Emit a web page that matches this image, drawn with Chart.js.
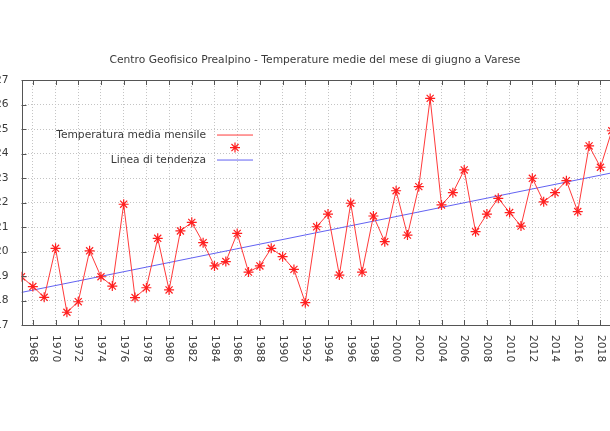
<!DOCTYPE html>
<html>
<head>
<meta charset="utf-8">
<script src="https://cdn.jsdelivr.net/npm/chart.js"></script>
<style>
  html, body { margin: 0; padding: 0; background: #fff; overflow: hidden; }
  #wrap { position: relative; width: 610px; height: 431px; overflow: hidden; }
  #chart { position: absolute; left: -30px; top: 0; }
</style>
</head>
<body>
<div id="wrap"><canvas id="chart" width="690" height="431"></canvas></div>
<script>
const TITLE = "Centro Geofisico Prealpino - Temperature medie del mese di giugno a Varese";

const years = [
  1967, 1968, 1969, 1970, 1971, 1972, 1973, 1974, 1975, 1976,
  1977, 1978, 1979, 1980, 1981, 1982, 1983, 1984, 1985, 1986,
  1987, 1988, 1989, 1990, 1991, 1992, 1993, 1994, 1995, 1996,
  1997, 1998, 1999, 2000, 2001, 2002, 2003, 2004, 2005, 2006,
  2007, 2008, 2009, 2010, 2011, 2012, 2013, 2014, 2015, 2016,
  2017, 2018, 2019
];
const temps = [
  18.97, 18.57, 18.13, 20.13, 17.52, 17.95, 20.03, 18.97, 18.59, 21.93,
  18.12, 18.52, 20.54, 18.43, 20.84, 21.19, 20.36, 19.41, 19.59, 20.74,
  19.16, 19.41, 20.13, 19.79, 19.27, 17.91, 21.01, 21.53, 19.04, 21.97,
  19.16, 21.45, 20.40, 22.48, 20.67, 22.65, 26.25, 21.90, 22.40, 23.33,
  20.81, 21.53, 22.17, 21.59, 21.04, 22.99, 22.03, 22.40, 22.89, 21.63,
  24.31, 23.44, 24.93
];

// trend line at its two ends
const trendYears = [1967, 2019];
const trendTemps = [18.33, 23.21];

const yearTicks = [
  1968, 1970, 1972, 1974, 1976, 1978, 1980, 1982, 1984, 1986,
  1988, 1990, 1992, 1994, 1996, 1998, 2000, 2002, 2004, 2006,
  2008, 2010, 2012, 2014, 2016, 2018, 2020, 2022
];
const tempTicks = [17, 18, 19, 20, 21, 22, 23, 24, 25, 26, 27];

const FONT = "DejaVu Sans";
const FSIZE = 10.7;
const TEXT = "#3a3a3a";
const RED = "#ff3a3a";
const BLUE = "#6262f2";

function drawStar(ctx, x, y, r) {
  const d = r * Math.SQRT1_2;
  ctx.beginPath();
  ctx.moveTo(x - r, y); ctx.lineTo(x + r, y);
  ctx.moveTo(x, y - r); ctx.lineTo(x, y + r);
  ctx.moveTo(x - d, y - d); ctx.lineTo(x + d, y + d);
  ctx.moveTo(x - d, y + d); ctx.lineTo(x + d, y - d);
  ctx.stroke();
}

// gnuplot look: box border, inward ticks, rotated year labels, legend on the right of text
const gnuplotFrame = {
  id: "gnuplotFrame",
  afterDraw(chart) {
    const { ctx, chartArea: a, scales } = chart;
    ctx.save();

    ctx.strokeStyle = "#555555";
    ctx.lineWidth = 1;
    ctx.strokeRect(Math.round(a.left) + 0.5, Math.round(a.top) + 0.5,
      Math.round(a.right - a.left), Math.round(a.bottom - a.top));

    ctx.beginPath();
    for (const t of scales.x.ticks) {
      const px = Math.round(scales.x.getPixelForValue(t.value)) + 0.5;
      ctx.moveTo(px, a.bottom); ctx.lineTo(px, a.bottom - 5);
      ctx.moveTo(px, a.top); ctx.lineTo(px, a.top + 5);
    }
    for (const t of scales.y.ticks) {
      const py = Math.round(scales.y.getPixelForValue(t.value)) + 0.5;
      ctx.moveTo(a.left, py); ctx.lineTo(a.left + 5, py);
    }
    ctx.stroke();

    ctx.fillStyle = TEXT;
    ctx.font = FSIZE + "px '" + FONT + "'";
    ctx.textAlign = "left";
    ctx.textBaseline = "middle";
    for (const t of scales.x.ticks) {
      const px = scales.x.getPixelForValue(t.value);
      ctx.save();
      ctx.translate(px, a.bottom + 10);
      ctx.rotate(Math.PI / 2);
      ctx.fillText(String(t.value), 0, 0);
      ctx.restore();
    }

    // legend
    const ds = chart.data.datasets;
    const tx = a.left + 184.5;
    const lx0 = a.left + 195.5, lx1 = a.left + 231.5;
    const rows = [a.top + 55, a.top + 67.5, a.top + 80];
    ctx.textAlign = "right";
    ctx.fillText(ds[0].label, tx, rows[0]);
    ctx.fillText(ds[1].label, tx, rows[2]);
    ctx.lineWidth = 1;
    ctx.strokeStyle = ds[0].borderColor;
    ctx.beginPath(); ctx.moveTo(lx0, rows[0]); ctx.lineTo(lx1, rows[0]); ctx.stroke();
    ctx.strokeStyle = ds[0].pointBorderColor;
    ctx.lineWidth = ds[0].pointBorderWidth;
    drawStar(ctx, (lx0 + lx1) / 2, rows[1], 5);
    ctx.lineWidth = 1;
    ctx.strokeStyle = ds[1].borderColor;
    ctx.beginPath(); ctx.moveTo(lx0, rows[2]); ctx.lineTo(lx1, rows[2]); ctx.stroke();

    ctx.restore();
  }
};

new Chart(document.getElementById("chart"), {
  type: "line",
  data: {
    datasets: [
      {
        label: "Temperatura media mensile",
        data: years.map((y, i) => ({ x: y, y: temps[i] })),
        borderColor: RED,
        borderWidth: 1,
        pointStyle: "star",
        pointRadius: 5,
        pointBorderColor: "#ff2020",
        pointBorderWidth: 1.2,
        tension: 0,
        fill: false
      },
      {
        label: "Linea di tendenza",
        data: trendYears.map((y, i) => ({ x: y, y: trendTemps[i] })),
        borderColor: BLUE,
        borderWidth: 1,
        pointRadius: 0,
        fill: false
      }
    ]
  },
  options: {
    responsive: false,
    animation: false,
    devicePixelRatio: 1,
    layout: { padding: 0 },
    plugins: {
      legend: { display: false },
      tooltip: { enabled: false },
      title: {
        display: true,
        text: TITLE,
        color: TEXT,
        font: { family: FONT, size: FSIZE, weight: "normal" },
        padding: { top: 53.6, bottom: 13.6 }
      }
    },
    scales: {
      x: {
        type: "linear",
        min: 1967,
        max: 2022.7,
        afterBuildTicks: s => { s.ticks = yearTicks.map(v => ({ value: v })); },
        afterFit: s => { s.height = 106; },
        ticks: { display: false },
        grid: { color: "#c4c4c4", lineWidth: 1, drawTicks: false },
        border: { display: false, dash: [1, 2] }
      },
      y: {
        min: 17,
        max: 27,
        afterBuildTicks: s => { s.ticks = tempTicks.map(v => ({ value: v })); },
        afterFit: s => { s.width = 51.5; },
        ticks: { padding: 13, color: TEXT, font: { family: FONT, size: FSIZE } },
        grid: { color: "#c4c4c4", lineWidth: 1, drawTicks: false },
        border: { display: false, dash: [1, 2] }
      }
    }
  },
  plugins: [gnuplotFrame]
});
</script>
</body>
</html>
